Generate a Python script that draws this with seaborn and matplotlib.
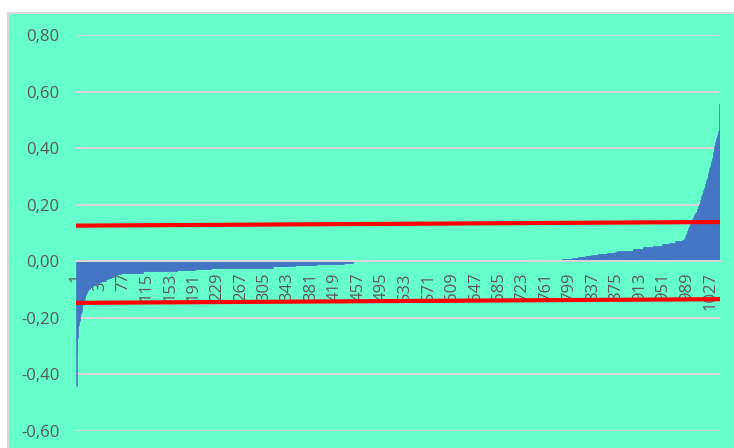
import numpy as np
import pandas as pd
import matplotlib
matplotlib.use("Agg")
import matplotlib.pyplot as plt
from matplotlib.patches import Rectangle
import seaborn as sns

# ---- data ----
n_bars = 1042
# first negative bars (one value per bar)
neg_head = [-0.44, -0.33, -0.27, -0.24, -0.225, -0.21, -0.198, -0.188, -0.178, -0.166,
            -0.156, -0.148, -0.140, -0.133, -0.126, -0.120, -0.113, -0.107, -0.104, -0.101,
            -0.099, -0.097, -0.094, -0.092]
# remaining negative bars as (level, count) runs
neg_levels = [-0.090, -0.088, -0.085, -0.082, -0.080, -0.077, -0.074, -0.071, -0.068, -0.064,
              -0.060, -0.055, -0.050, -0.046, -0.043, -0.040, -0.036, -0.033, -0.030, -0.027,
              -0.025, -0.022, -0.018, -0.014, -0.011, -0.008, -0.005]
neg_counts = [2, 2, 2, 2, 3, 3, 3, 3, 4, 4,
              4, 5, 6, 6, 15, 20, 25, 30, 30, 25,
              35, 65, 37, 35, 25, 18, 15]
# positive bars as (level, count) runs
pos_levels = [0.005, 0.009, 0.012, 0.016, 0.019, 0.022, 0.026, 0.030, 0.033, 0.038,
              0.043, 0.049, 0.054, 0.060, 0.066, 0.071, 0.077]
pos_counts = [34, 16, 10, 11, 11, 10, 15, 13, 4, 25,
              16, 16, 15, 12, 9, 12, 3]
# last steep bars (one value per bar)
pos_tail = [0.080, 0.085, 0.090, 0.095, 0.100, 0.106, 0.112, 0.118, 0.125, 0.132,
            0.137, 0.142, 0.147, 0.151, 0.155, 0.158, 0.162, 0.166, 0.170, 0.174,
            0.178, 0.184, 0.190, 0.197, 0.204, 0.210, 0.217, 0.224, 0.231, 0.238,
            0.245, 0.252, 0.259, 0.266, 0.273, 0.280, 0.288, 0.296, 0.304, 0.312,
            0.320, 0.329, 0.338, 0.347, 0.356, 0.365, 0.376, 0.387, 0.398, 0.409,
            0.420, 0.428, 0.436, 0.445, 0.452, 0.460, 0.470, 0.555]
upper_line = [0.126, 0.139]
lower_line = [-0.147, -0.134]
y_ticks = [-0.6, -0.4, -0.2, 0.0, 0.2, 0.4, 0.6, 0.8]
x_tick_labels = [str(v) for v in range(1, 1028, 38)]

neg = list(neg_head) + list(np.repeat(neg_levels, neg_counts))
pos = list(np.repeat(pos_levels, pos_counts)) + list(pos_tail)
n_zero = n_bars - len(neg) - len(pos)
values = neg + [0.0] * n_zero + pos
df = pd.DataFrame({"idx": np.arange(len(values)), "value": values})

# ---- style ----
green = "#66FFCC"
blue = "#4472C4"
grid_c = "#D9D9D9"
text_c = "#595959"

sns.set_style("white")
plt.rcParams["font.family"] = ["Open Sans", "DejaVu Sans"]

fig = plt.figure(figsize=(7.34, 4.48), dpi=100)
fig.patch.set_facecolor("white")
ax = fig.add_axes([76 / 734, 17 / 448, (720 - 76) / 734, (431 - 35) / 448])
ax.set_facecolor("none")
ax.set_zorder(5)
bg = Rectangle((8 / 734, -0.01), 1.02 - 8 / 734, 1.01 - 13 / 448,
               transform=fig.transFigure, facecolor=green,
               edgecolor=grid_c, lw=1.5, zorder=-10)
fig.patches.append(bg)

sns.barplot(data=df, x="idx", y="value", native_scale=True, width=1.0,
            color=blue, saturation=1, linewidth=0.4, edgecolor=blue,
            errorbar=None, ax=ax)
ends = [df["idx"].iloc[0] - 0.5, df["idx"].iloc[-1] + 0.5]
sns.lineplot(x=ends, y=upper_line, color="#FF0000", lw=3, ax=ax)
sns.lineplot(x=ends, y=lower_line, color="#FF0000", lw=3, ax=ax)

for s in ["top", "right", "left"]:
    ax.spines[s].set_visible(False)
ax.spines["bottom"].set_position(("data", 0))
ax.spines["bottom"].set_color(grid_c)
ax.spines["bottom"].set_linewidth(1.4)

ax.set_xlim(ends[0], ends[1])
ax.set_ylim(-0.6, 0.8)
ax.set_yticks(y_ticks)
ax.set_yticklabels([f"{t:.2f}".replace(".", ",") for t in y_ticks])
ax.set_xticks(np.arange(0, 1027, 38))
ax.set_xticklabels(x_tick_labels)
ax.grid(axis="y", color=grid_c, lw=1.4)
ax.grid(axis="x", visible=False)
ax.set_axisbelow(True)
ax.tick_params(axis="y", length=0, pad=12, labelsize=12, labelcolor=text_c)
ax.tick_params(axis="x", length=0, pad=8, labelsize=12, labelcolor=text_c,
               labelrotation=90)
ax.set_xlabel("")
ax.set_ylabel("")

fig.savefig("out.png", dpi=100, facecolor="white")
